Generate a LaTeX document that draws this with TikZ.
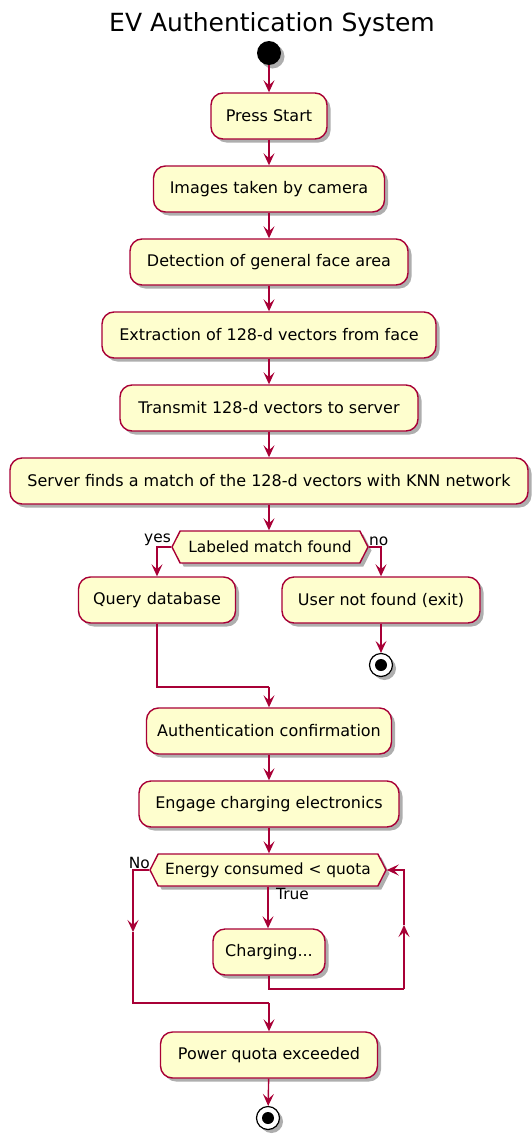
\documentclass[tikz,border=0pt]{standalone}
\usepackage{fontspec}
\setmainfont{DejaVu Sans}
\usetikzlibrary{arrows.meta,shapes.symbols,shadows,calc}
\definecolor{umlfill}{HTML}{FEFECE}
\definecolor{umlline}{HTML}{A80036}
\begin{document}
\begin{tikzpicture}[x=1pt,y=-1pt,
  shad/.style={drop shadow={shadow xshift=3.5pt,shadow yshift=-3.5pt,opacity=0.45,fill=black!70}},
  act/.style={draw=umlline, fill=umlfill, line width=1.4pt, rounded corners=12pt,
    minimum height=46pt, inner xsep=0pt, font=\fontsize{16}{18}\selectfont, shad},
  cond/.style={signal, signal to=west and east, signal pointer angle=126,
    draw=umlline, fill=umlfill, line width=1.4pt, minimum height=32pt, inner xsep=0pt,
    font=\fontsize{15.4}{17}\selectfont, shad},
  lbl/.style={font=\fontsize{15.4}{17}\selectfont, inner sep=0pt},
  flow/.style={draw=umlline, line width=1.4pt, -{Stealth[length=12pt,width=11pt,inset=5pt]}},
  line/.style={draw=umlline, line width=1.4pt},
  startnode/.style={circle, fill=black, minimum size=24pt, inner sep=0pt, shad},
  endnode/.style={circle, draw=black, fill=white, line width=1.2pt, minimum size=23pt, inner sep=0pt, shad,
    path picture={\fill[black] (path picture bounding box.center) circle (6pt);}}
]
\useasboundingbox (0,0) rectangle (532,1135);
\node[font=\fontsize{25}{29}\selectfont, inner sep=0pt] (title) at (272,25) {EV Authentication System};
\node[startnode] (start) at (269,53) {};
\node[act, minimum width=116pt] (ps) at (269,116) {Press Start};
\node[act, minimum width=231pt] (img) at (269,189) {Images taken by camera};
\node[act, minimum width=278pt] (det) at (269,262) {Detection of general face area};
\node[act, minimum width=334pt] (ext) at (269,335) {Extraction of 128-d vectors from face};
\node[act, minimum width=298pt] (tx) at (269,408) {Transmit 128-d vectors to server};
\node[act, minimum width=518pt] (srv) at (269,481) {Server finds a match of the 128-d vectors with KNN network};
\node[cond, minimum width=196pt] (lm) at (270,547) {Labeled match found};
\node[lbl, anchor=south east] (yes) at (171,546) {yes};
\node[lbl, anchor=south west] (no) at (369,546) {no};
\node[act, minimum width=157pt] (qd) at (157,600) {Query database};
\node[act, minimum width=198pt] (unf) at (381,600) {User not found (exit)};
\node[endnode] (end1) at (381,665) {};
\node[act, minimum width=245pt] (ac) at (269,731) {Authentication confirmation};
\node[act, minimum width=260pt] (eng) at (269,804) {Engage charging electronics};
\node[cond, minimum width=236pt] (ec) at (268,870) {Energy consumed < quota};
\node[lbl, anchor=south east] (nol) at (150,869) {No};
\node[lbl, anchor=north west] (tru) at (276,888) {True};
\node[act, minimum width=112pt] (chg) at (269,952) {Charging...};
\node[act, minimum width=217pt] (pq) at (269,1055) {Power quota exceeded};
\node[endnode] (end2) at (268,1118) {};

\coordinate (yesc) at (157,547);
\coordinate (noc) at (381,547);
\coordinate (joinl) at (157,687);
\coordinate (joinr) at (269,687);
\coordinate (nol1) at (133,870);
\coordinate (nomid) at (133,932);
\coordinate (nol2) at (133,1003);
\coordinate (nor2) at (269,1003);
\coordinate (lp1) at (269,989);
\coordinate (lp2) at (404,989);
\coordinate (lpmid) at (404,925);
\coordinate (lp3) at (404,870);

\draw[flow] (start) -- (ps);
\draw[flow] (ps) -- (img);
\draw[flow] (img) -- (det);
\draw[flow] (det) -- (ext);
\draw[flow] (ext) -- (tx);
\draw[flow] (tx) -- (srv);
\draw[flow] (srv) -- (srv.south |- lm.north);
\draw[flow] (lm.west) -- (yesc) -- (qd.north);
\draw[flow] (lm.east) -- (noc) -- (unf.north);
\draw[flow] (unf) -- (end1);
\draw[line] (qd.south) -- (joinl) -- (joinr);
\draw[flow] (joinr) -- (ac.north);
\draw[flow] (ac) -- (eng);
\draw[flow] (eng.south) -- (eng.south |- ec.north);
\draw[flow] (ec.south) -- (ec.south |- chg.north);
\draw[flow] (ec.west) -- (nol1) -- (nomid);
\draw[line] (nomid) -- (nol2) -- (nor2);
\draw[flow] (nor2) -- (pq.north);
\draw[line] (chg.south) -- (lp1) -- (lp2);
\draw[flow] (lp2) -- (lpmid);
\draw[flow] (lpmid) -- (lp3) -- (ec.east);
\draw[flow] (pq) -- (end2);
\end{tikzpicture}
\end{document}
